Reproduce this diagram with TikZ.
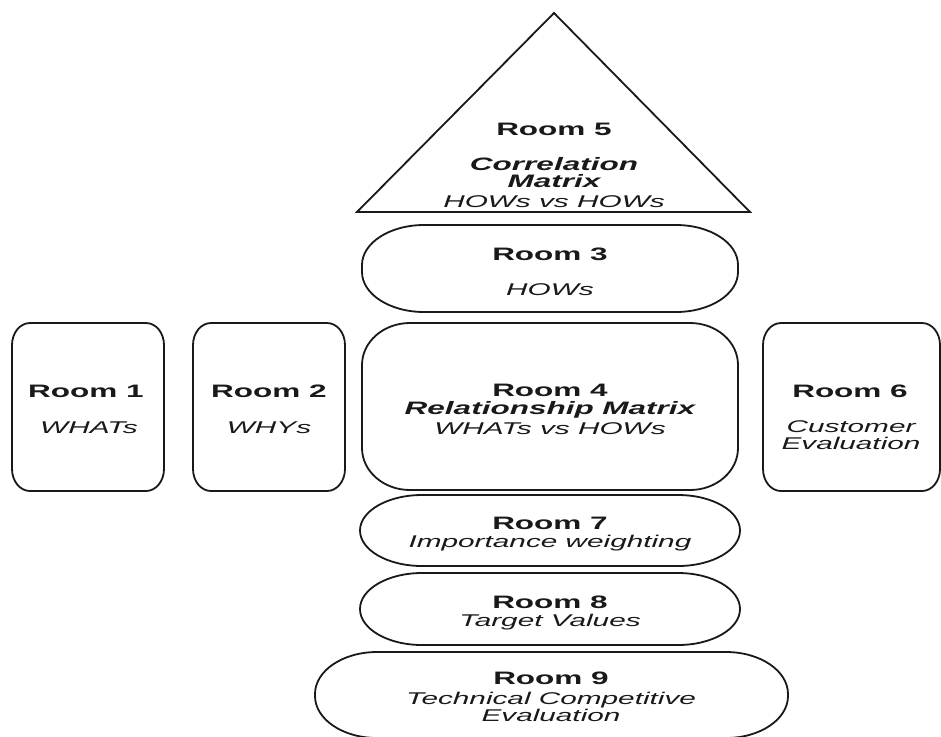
\documentclass[tikz,border=0pt]{standalone}
\usepackage{fontspec}
\setmainfont{Liberation Sans}[FakeStretch=1.75]
\usetikzlibrary{calc}

% outline of a box with elliptical corners: node, x radius, y radius
\newcommand\roomoutline[3]{%
  \draw[roomline] ([xshift=#2]#1.north west) -- ([xshift=-#2]#1.north east)
    arc[start angle=90, end angle=0, x radius=#2, y radius=#3]
    -- ([yshift=#3]#1.south east)
    arc[start angle=0, end angle=-90, x radius=#2, y radius=#3]
    -- ([xshift=#2]#1.south west)
    arc[start angle=270, end angle=180, x radius=#2, y radius=#3]
    -- ([yshift=-#3]#1.north west)
    arc[start angle=180, end angle=90, x radius=#2, y radius=#3]
    -- cycle;}

\tikzset{
  roomline/.style={line width=1.8pt, draw=black!90},
  roombox/.style={rectangle, inner sep=0pt, outer sep=0pt},
  txt/.style={anchor=base, inner sep=0pt, text=black!90},
  roomname/.style={txt, font=\fontsize{18}{18}\selectfont\bfseries},
  roomtopic/.style={txt, font=\fontsize{18}{18}\selectfont\bfseries\itshape},
  roomnote/.style={txt, font=\fontsize{17}{17}\selectfont\itshape},
}

\begin{document}
\begin{tikzpicture}[x=1pt, y=-1pt]
\useasboundingbox (0,0) rectangle (941,736);
\fill[white] (0,0) rectangle (941,736);
\clip (0,0) rectangle (941,736);

% room 5: the roof
\coordinate (apex) at (554,13);
\coordinate (baseL) at (357,212);
\coordinate (baseR) at (750,212);
\draw[roomline, line join=miter] (apex) -- (baseR) -- (baseL) -- cycle;
\node[roomname]  (t5a) at (554,135) {Room 5};
\node[roomtopic] (t5b) at (554,170) {Correlation};
\node[roomtopic] (t5c) at (554,187) {Matrix};
\node[roomnote]  (t5d) at (554,207) {HOWs vs HOWs};

% room boxes
\node[roombox, minimum width=152pt, minimum height=168pt] (r1) at (88,407) {};
\node[roombox, minimum width=152pt, minimum height=168pt] (r2) at (269,407) {};
\node[roombox, minimum width=376pt, minimum height=87pt]  (r3) at (550,268.5) {};
\node[roombox, minimum width=376pt, minimum height=167pt] (r4) at (550,406.5) {};
\node[roombox, minimum width=177pt, minimum height=168pt] (r6) at (851.5,407) {};
\node[roombox, minimum width=380pt, minimum height=71pt]  (r7) at (550,530.5) {};
\node[roombox, minimum width=380pt, minimum height=72pt]  (r8) at (550,609) {};
\node[roombox, minimum width=473pt, minimum height=86pt]  (r9) at (551.5,695) {};

\roomoutline{r1}{18pt}{22pt}
\roomoutline{r2}{18pt}{22pt}
\roomoutline{r3}{62pt}{40pt}
\roomoutline{r4}{48pt}{42pt}
\roomoutline{r6}{18pt}{22pt}
\roomoutline{r7}{62pt}{35.5pt}
\roomoutline{r8}{62pt}{36pt}
\roomoutline{r9}{62pt}{42pt}

% labels
\node[roomname] (t1a) at (86,397) {Room 1};
\node[roomnote] (t1b) at (89,433) {WHATs};

\node[roomname] (t2a) at (269,397) {Room 2};
\node[roomnote] (t2b) at (269,433) {WHYs};

\node[roomname] (t3a) at (550,260) {Room 3};
\node[roomnote] (t3b) at (550,295) {HOWs};

\node[roomname]  (t4a) at (550,396) {Room 4};
\node[roomtopic] (t4b) at (550,414) {Relationship Matrix};
\node[roomnote]  (t4c) at (550,434) {WHATs vs HOWs};

\node[roomname] (t6a) at (850,397) {Room 6};
\node[roomnote] (t6b) at (851,432) {Customer};
\node[roomnote] (t6c) at (851,449) {Evaluation};

\node[roomname] (t7a) at (550,529) {Room 7};
\node[roomnote] (t7b) at (550,547) {Importance weighting};

\node[roomname] (t8a) at (550,608) {Room 8};
\node[roomnote] (t8b) at (550,626) {Target Values};

\node[roomname] (t9a) at (551,684) {Room 9};
\node[roomnote] (t9b) at (551,704) {Technical Competitive};
\node[roomnote] (t9c) at (551,721) {Evaluation};
\end{tikzpicture}
\end{document}
